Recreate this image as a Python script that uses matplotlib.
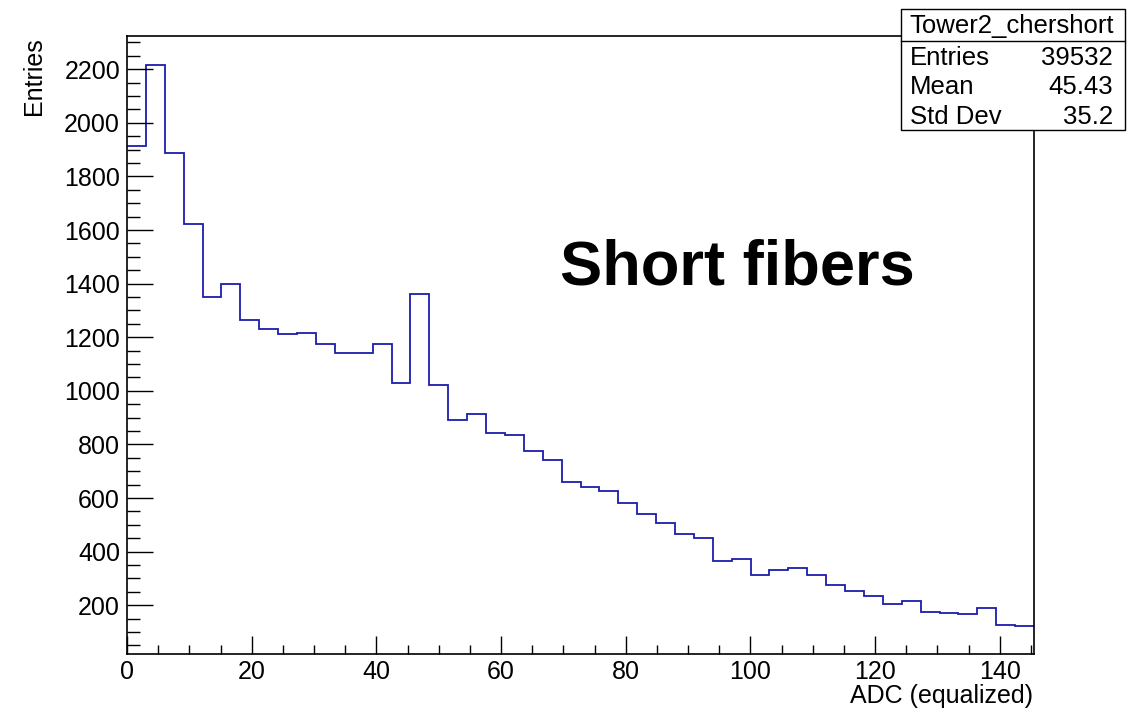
import numpy as np
import matplotlib
matplotlib.use("Agg")
import matplotlib.pyplot as plt
from matplotlib.patches import Rectangle
from matplotlib.lines import Line2D
from matplotlib.ticker import MultipleLocator

plt.rcParams['font.family'] = ['Liberation Sans', 'DejaVu Sans']

# histogramma Tower2_chershort, 48 bin da 0 a 145.5
x_min, x_max, n_bins = 0.0, 145.5, 48
counts = [1914, 2215, 1887, 1623, 1349, 1398, 1265, 1230, 1212, 1215,
          1176, 1141, 1141, 1174, 1031, 1362, 1022, 891, 914, 842,
          834, 777, 743, 660, 643, 628, 581, 540, 508, 467,
          452, 365, 374, 312, 333, 340, 313, 276, 254, 235,
          205, 217, 176, 171, 168, 191, 125, 124]
stats_names = ["Entries", "Mean", "Std Dev"]
stats_values = ["39532", "45.43", "35.2"]
hist_name = "Tower2_chershort"

W, H = 1137, 711
def fx(x): return x / W
def fy(y): return 1 - y / H

fig = plt.figure(figsize=(W / 100, H / 100), dpi=100)
ax = fig.add_axes([fx(127), fy(654), (1034 - 127) / W, (654 - 36) / H])

edges = np.linspace(x_min, x_max, n_bins + 1)
ax.stairs(counts, edges, baseline=None, color='#1c1cae', lw=1.3)

ax.set_xlim(x_min, x_max)
ax.set_ylim(18, 2324)

ax.xaxis.set_major_locator(MultipleLocator(20))
ax.xaxis.set_minor_locator(MultipleLocator(5))
ax.yaxis.set_major_locator(MultipleLocator(200))
ax.yaxis.set_minor_locator(MultipleLocator(50))
ax.tick_params(axis='both', which='both', direction='in', width=1.0,
               labelsize=18, top=False, right=False)
ax.tick_params(axis='y', which='major', length=19, pad=5)
ax.tick_params(axis='y', which='minor', length=9.5)
ax.tick_params(axis='x', which='major', length=13, pad=4)
ax.tick_params(axis='x', which='minor', length=6.5)
for s in ax.spines.values():
    s.set_linewidth(1.2)

fig.text(fx(1033), fy(703), "ADC (equalized)", ha='right', va='baseline', fontsize=18)
fig.text(fx(34), fy(37), "Entries", ha='center', va='top', rotation=90, fontsize=18)

ax.text(69.5, 1395, "Short fibers", fontsize=45.5, fontweight='bold', va='baseline')

# box statistiche (stile ROOT)
box = Rectangle((fx(901), fy(130)), 224 / W, 121 / H, transform=fig.transFigure,
                facecolor='white', edgecolor='black', lw=1.0, zorder=5)
fig.add_artist(box)
fig.add_artist(Line2D([fx(901), fx(1125)], [fy(40.7), fy(40.7)],
                      transform=fig.transFigure, color='black', lw=1.0, zorder=6))
fig.text(fx(1012), fy(33), hist_name, ha='center', va='baseline', fontsize=18.5, zorder=7)
for i in range(len(stats_names)):
    yb = 65 + 29.5 * i
    fig.text(fx(910), fy(yb), stats_names[i], ha='left', va='baseline', fontsize=18.5, zorder=7)
    fig.text(fx(1113), fy(yb), stats_values[i], ha='right', va='baseline', fontsize=18.5, zorder=7)

fig.savefig("out.png", dpi=100)
